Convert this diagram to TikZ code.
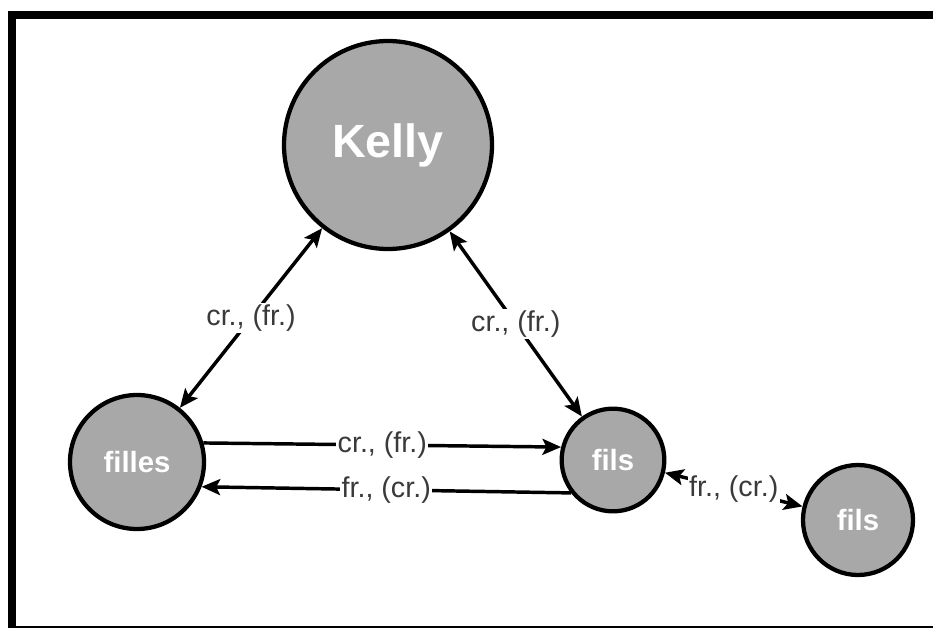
\documentclass[tikz,border=0pt]{standalone}
\usepackage{fontspec}
\setmainfont{Liberation Sans}
\usetikzlibrary{arrows.meta}
\definecolor{disc}{RGB}{168,168,168}
\definecolor{lbl}{RGB}{58,58,58}

\begin{document}
\begin{tikzpicture}[x=0.75pt, y=-0.75pt,
  person/.style={circle, draw=black, line width=3.2pt, fill=disc, text=white,
                 font=\bfseries\fontsize{22}{26}\selectfont, inner sep=0pt},
  rel/.style={line width=2.6pt, -{Stealth[length=14pt, width=12pt, inset=3pt]}},
  both/.style={line width=2.6pt, {Stealth[length=14pt, width=12pt, inset=3pt]}-{Stealth[length=14pt, width=12pt, inset=3pt]}},
  tag/.style={fill=white, text=lbl, font=\fontsize{21.5}{25}\selectfont, inner sep=1pt}]

  % ---------- page and frame ----------
  \useasboundingbox (0,0) rectangle (933,628);
  \clip (0,0) rectangle (933,628);
  \fill[white] (0,0) rectangle (933,628);
  \draw[line width=6pt] (12,14.5) rectangle (945,630);

  % ---------- people ----------
  \node[person, minimum size=156pt, font=\bfseries\fontsize{35}{40}\selectfont] (kelly) at (388,145) {Kelly};
  \node[person, minimum size=100.5pt] (filles) at (137,462) {filles};
  \node[person, minimum size=77pt] (fils) at (613,460) {fils};
  \node[person, minimum size=82.5pt] (fils2) at (858,520) {fils};

  % ---------- relations ----------
  \draw[both] (kelly) -- (filles) node[tag, midway] {cr., (fr.)};
  \draw[both] (kelly) -- (fils) node[tag, midway] {cr., (fr.)};
  \draw[rel] (filles.16) -- (fils.166) node[tag, midway] {cr., (fr.)};
  \draw[rel] (fils.218) -- (filles.-21) node[tag, midway] {fr., (cr.)};
  \draw[both] (fils) -- (fils2) node[tag, midway] {fr., (cr.)};

\end{tikzpicture}
\end{document}
